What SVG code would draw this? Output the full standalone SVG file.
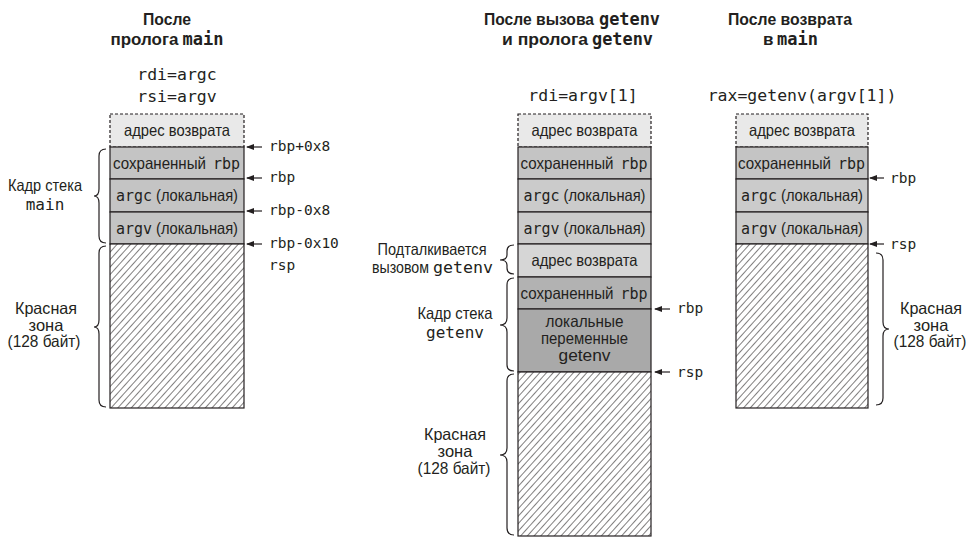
<svg xmlns="http://www.w3.org/2000/svg" width="971" height="538" viewBox="0 0 971 538">
  <defs>
    <style>
      .title { font-family: "Liberation Sans", "DejaVu Sans", sans-serif; font-weight: bold; font-size: 17px; fill: #231f20; }
      .tm { font-family: "DejaVu Sans Mono", "Liberation Mono", monospace; font-weight: bold; font-size: 17px; fill: #231f20; }
      .reg { font-family: "DejaVu Sans Mono", "Liberation Mono", monospace; font-size: 16.5px; fill: #231f20; }
      .ptr { font-family: "DejaVu Sans Mono", "Liberation Mono", monospace; font-size: 14.5px; fill: #231f20; }
      .cell { font-family: "Liberation Sans", "DejaVu Sans", sans-serif; font-size: 16.5px; fill: #231f20; }
      .cm { font-family: "DejaVu Sans Mono", "Liberation Mono", monospace; font-size: 15px; fill: #231f20; }
      .lbl { font-family: "Liberation Sans", "DejaVu Sans", sans-serif; font-size: 16.5px; fill: #231f20; }
      .lm { font-family: "DejaVu Sans Mono", "Liberation Mono", monospace; font-size: 16px; fill: #231f20; }
      .mid { text-anchor: middle; }
      .ret { fill: #e9e9e9; stroke: #231f20; stroke-width: 1.2; stroke-dasharray: 3 2; }
      .rbpm { fill: #c4c4c4; stroke: #231f20; stroke-width: 1.2; }
      .loc { fill: #cbcbcb; stroke: #231f20; stroke-width: 1.2; }
      .push { fill: #d6d6d6; stroke: #231f20; stroke-width: 1.2; }
      .rbpg { fill: #b2b2b2; stroke: #231f20; stroke-width: 1.2; }
      .locg { fill: #a9a9a9; stroke: #231f20; stroke-width: 1.2; }
      .red { fill: url(#hatch); stroke: #231f20; stroke-width: 1.2; }
      .brace { fill: none; stroke: #231f20; stroke-width: 1.2; }
      .arrow { stroke: #231f20; stroke-width: 1.2; marker-end: url(#head); }
    </style>
    <pattern id="hatch" patternUnits="userSpaceOnUse" width="5" height="10" patternTransform="rotate(42)">
      <rect width="5" height="10" fill="#ffffff"/>
      <line x1="0" y1="0" x2="0" y2="10" stroke="#231f20" stroke-width="1.15"/>
    </pattern>
    <marker id="head" viewBox="0 0 8 6" refX="7" refY="3" markerWidth="8" markerHeight="6" markerUnits="userSpaceOnUse" orient="auto">
      <path d="M0,0 L8,3 L0,6 z" fill="#231f20"/>
    </marker>
  </defs>

  <!-- Column 1: after main's prologue -->
  <g id="title-main">
    <text class="title mid" x="167" y="25" textLength="48" lengthAdjust="spacingAndGlyphs">После</text>
    <text class="title" x="110.5" y="45" textLength="68" lengthAdjust="spacingAndGlyphs">пролога</text>
    <text class="tm" x="182.5" y="45" textLength="41" lengthAdjust="spacingAndGlyphs">main</text>
  </g>
  <g id="regs-main">
    <text class="reg mid" x="177" y="80">rdi=argc</text>
    <text class="reg mid" x="177" y="102">rsi=argv</text>
  </g>
  <g id="stack-main">
    <rect class="ret" x="110" y="114" width="134" height="33"/>
    <text class="cell mid" x="177" y="136" textLength="106" lengthAdjust="spacingAndGlyphs">адрес возврата</text>
    <rect class="rbpm" x="110" y="147" width="134" height="32"/>
    <text class="cell" x="113" y="169" textLength="93" lengthAdjust="spacingAndGlyphs">сохраненный</text>
    <text class="cm" x="213" y="169">rbp</text>
    <rect class="rbpm" x="110" y="179" width="134" height="33"/>
    <text class="cm" x="116" y="201">argc</text>
    <text class="cell" x="156" y="201" textLength="82" lengthAdjust="spacingAndGlyphs">(локальная)</text>
    <rect class="rbpm" x="110" y="212" width="134" height="32"/>
    <text class="cm" x="116" y="234">argv</text>
    <text class="cell" x="156" y="234" textLength="82" lengthAdjust="spacingAndGlyphs">(локальная)</text>
    <rect class="red" x="110" y="244" width="134" height="164"/>
  </g>
  <g id="labels-main">
    <text class="lbl mid" x="45" y="191" textLength="74" lengthAdjust="spacingAndGlyphs">Кадр стека</text>
    <text class="lm mid" x="45" y="210">main</text>
    <text class="lbl mid" x="46" y="314" textLength="62" lengthAdjust="spacingAndGlyphs">Красная</text>
    <text class="lbl mid" x="46" y="330.5">зона</text>
    <text class="lbl mid" x="44" y="347" textLength="73" lengthAdjust="spacingAndGlyphs">(128 байт)</text>
  </g>
  <g id="pointers-main">
    <text class="ptr" x="269" y="151">rbp+0x8</text>
    <text class="ptr" x="269" y="182">rbp</text>
    <text class="ptr" x="269" y="215">rbp-0x8</text>
    <text class="ptr" x="269" y="248">rbp-0x10</text>
    <text class="ptr" x="269" y="270">rsp</text>
  </g>

  <!-- Column 2: after the call to getenv and getenv's prologue -->
  <g id="title-getenv">
    <text class="title" x="484" y="25" textLength="110" lengthAdjust="spacingAndGlyphs">После вызова</text>
    <text class="tm" x="599" y="25" textLength="61" lengthAdjust="spacingAndGlyphs">getenv</text>
    <text class="title" x="502" y="45" textLength="86" lengthAdjust="spacingAndGlyphs">и пролога</text>
    <text class="tm" x="592" y="45" textLength="61" lengthAdjust="spacingAndGlyphs">getenv</text>
  </g>
  <g id="regs-getenv">
    <text class="reg mid" x="583" y="101">rdi=argv[1]</text>
  </g>
  <g id="stack-getenv">
    <rect class="ret" x="518" y="114" width="133" height="33"/>
    <text class="cell mid" x="584.5" y="136" textLength="106" lengthAdjust="spacingAndGlyphs">адрес возврата</text>
    <rect class="rbpm" x="518" y="147" width="133" height="32"/>
    <text class="cell" x="520.5" y="169" textLength="93" lengthAdjust="spacingAndGlyphs">сохраненный</text>
    <text class="cm" x="620.5" y="169">rbp</text>
    <rect class="loc" x="518" y="179" width="133" height="33"/>
    <text class="cm" x="523.5" y="201">argc</text>
    <text class="cell" x="563.5" y="201" textLength="82" lengthAdjust="spacingAndGlyphs">(локальная)</text>
    <rect class="loc" x="518" y="212" width="133" height="32"/>
    <text class="cm" x="523.5" y="234">argv</text>
    <text class="cell" x="563.5" y="234" textLength="82" lengthAdjust="spacingAndGlyphs">(локальная)</text>
    <rect class="push" x="518" y="244" width="133" height="33"/>
    <text class="cell mid" x="584.5" y="266" textLength="106" lengthAdjust="spacingAndGlyphs">адрес возврата</text>
    <rect class="rbpg" x="518" y="277" width="133" height="32"/>
    <text class="cell" x="520.5" y="299" textLength="93" lengthAdjust="spacingAndGlyphs">сохраненный</text>
    <text class="cm" x="620.5" y="299">rbp</text>
    <rect class="locg" x="518" y="309" width="133" height="63"/>
    <text class="cell mid" x="584.5" y="327" textLength="78" lengthAdjust="spacingAndGlyphs">локальные</text>
    <text class="cell mid" x="584.5" y="344" textLength="87" lengthAdjust="spacingAndGlyphs">переменные</text>
    <text class="cell mid" x="584.5" y="361" textLength="52" lengthAdjust="spacingAndGlyphs">getenv</text>
    <rect class="red" x="518" y="372" width="133" height="164"/>
  </g>
  <g id="labels-getenv">
    <text class="lbl mid" x="432" y="255" textLength="109" lengthAdjust="spacingAndGlyphs">Подталкивается</text>
    <text class="lbl" x="372" y="273" textLength="57" lengthAdjust="spacingAndGlyphs">вызовом</text>
    <text class="lm" x="433" y="273" textLength="60" lengthAdjust="spacingAndGlyphs">getenv</text>
    <text class="lbl mid" x="455" y="319" textLength="75" lengthAdjust="spacingAndGlyphs">Кадр стека</text>
    <text class="lm mid" x="455" y="338">getenv</text>
    <text class="lbl mid" x="455" y="440" textLength="62" lengthAdjust="spacingAndGlyphs">Красная</text>
    <text class="lbl mid" x="455" y="457">зона</text>
    <text class="lbl mid" x="454" y="474" textLength="73" lengthAdjust="spacingAndGlyphs">(128 байт)</text>
  </g>
  <g id="pointers-getenv">
    <text class="ptr" x="677" y="313">rbp</text>
    <text class="ptr" x="677" y="377">rsp</text>
  </g>

  <!-- Column 3: after returning to main -->
  <g id="title-return">
    <text class="title mid" x="790" y="25" textLength="124" lengthAdjust="spacingAndGlyphs">После возврата</text>
    <text class="title" x="763" y="45">в</text>
    <text class="tm" x="777" y="45" textLength="41" lengthAdjust="spacingAndGlyphs">main</text>
  </g>
  <g id="regs-return">
    <text class="reg mid" x="802" y="101">rax=getenv(argv[1])</text>
  </g>
  <g id="stack-return">
    <rect class="ret" x="736" y="114" width="132" height="33"/>
    <text class="cell mid" x="802" y="136" textLength="106" lengthAdjust="spacingAndGlyphs">адрес возврата</text>
    <rect class="rbpm" x="736" y="147" width="132" height="32"/>
    <text class="cell" x="738" y="169" textLength="93" lengthAdjust="spacingAndGlyphs">сохраненный</text>
    <text class="cm" x="838" y="169">rbp</text>
    <rect class="loc" x="736" y="179" width="132" height="33"/>
    <text class="cm" x="741" y="201">argc</text>
    <text class="cell" x="781" y="201" textLength="82" lengthAdjust="spacingAndGlyphs">(локальная)</text>
    <rect class="loc" x="736" y="212" width="132" height="32"/>
    <text class="cm" x="741" y="234">argv</text>
    <text class="cell" x="781" y="234" textLength="82" lengthAdjust="spacingAndGlyphs">(локальная)</text>
    <rect class="red" x="736" y="244" width="132" height="164"/>
  </g>
  <g id="labels-return">
    <text class="lbl mid" x="931" y="314" textLength="62" lengthAdjust="spacingAndGlyphs">Красная</text>
    <text class="lbl mid" x="931" y="330.5">зона</text>
    <text class="lbl mid" x="930" y="347" textLength="73" lengthAdjust="spacingAndGlyphs">(128 байт)</text>
  </g>
  <g id="pointers-return">
    <text class="ptr" x="890" y="183">rbp</text>
    <text class="ptr" x="890" y="249">rsp</text>
  </g>

  <!-- Connectors: pointer arrows and braces -->
  <g id="connectors">
    <line class="arrow" x1="262" y1="147" x2="247" y2="147"/>
    <line class="arrow" x1="262" y1="178" x2="247" y2="178"/>
    <line class="arrow" x1="262" y1="211" x2="247" y2="211"/>
    <line class="arrow" x1="262" y1="244" x2="247" y2="244"/>

    <line class="arrow" x1="670" y1="309" x2="655" y2="309"/>
    <line class="arrow" x1="670" y1="372" x2="655" y2="372"/>

    <line class="arrow" x1="884" y1="178" x2="870" y2="178"/>
    <line class="arrow" x1="884" y1="244" x2="870" y2="244"/>

    <path class="brace" d="M106,149 Q99,149 99,156 L99,189 Q99,196 94,196 Q99,196 99,203 L99,236 Q99,243 106,243"/>
    <path class="brace" d="M106,246 Q99,246 99,253 L99,320 Q99,327 94,327 Q99,327 99,334 L99,400 Q99,407 106,407"/>

    <path class="brace" d="M514,245 Q507,245 507,251 L507,255 Q507,260 500,260 Q507,260 507,265 L507,268 Q507,274 514,274"/>
    <path class="brace" d="M514,278 Q507,278 507,285 L507,318 Q507,325 500,325 Q507,325 507,332 L507,365 Q507,371 514,371"/>
    <path class="brace" d="M514,374 Q507,374 507,381 L507,448 Q507,455 500,455 Q507,455 507,462 L507,528 Q507,535 514,535"/>

    <path class="brace" d="M876,253 Q883,253 883,260 L883,322 Q883,329 889,329 Q883,329 883,336 L883,398 Q883,405 876,405"/>
  </g>
</svg>
